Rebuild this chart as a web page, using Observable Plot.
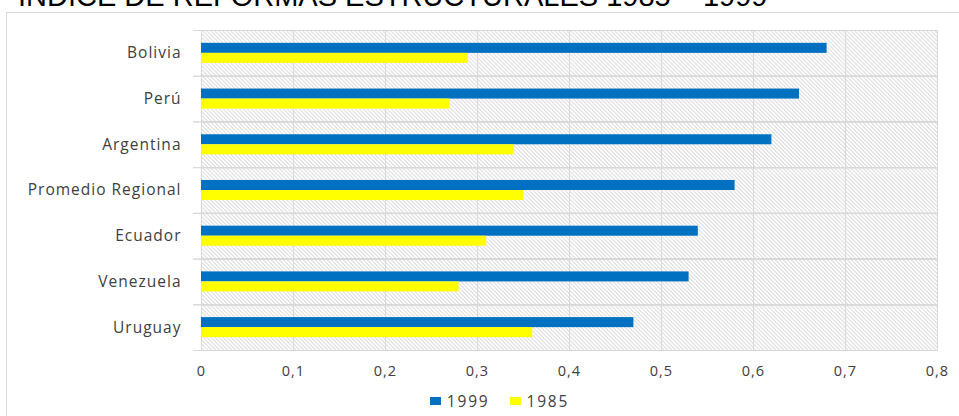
<!DOCTYPE html>
<html>
<head>
<meta charset="utf-8">
<script src="https://cdn.jsdelivr.net/npm/d3@7"></script>
<script src="https://cdn.jsdelivr.net/npm/@observablehq/plot@0.6"></script>
<style>
  html, body { margin: 0; padding: 0; background: #fff; }
  #wrap { position: relative; width: 959px; height: 416px; overflow: hidden; }
  #border { position: absolute; left: 6px; top: 12px; width: 1200px; height: 600px; border: 1px solid #d9d9d9; }
  #title { position: absolute; left: 18px; top: -18px; font-family: "Liberation Sans", Arial, sans-serif; font-size: 29px; line-height: 29px; color: #000; white-space: nowrap; }
  #chart { position: absolute; left: 0; top: 0; }
  #chart svg text { letter-spacing: 1px; }
  #legend { position: absolute; left: 0; top: 390px; width: 959px; height: 22px; display: flex; justify-content: center; align-items: center; padding-left: 40px; box-sizing: border-box;
            font-family: "Open Sans", sans-serif; font-size: 15.5px; letter-spacing: 1.8px; color: #404040; }
  #legend .item { display: flex; align-items: center; margin: 0 10px; }
  #legend .sw { width: 11px; height: 8px; margin-right: 6px; }
</style>
</head>
<body>
<div id="wrap">
  <div id="border"></div>
  <div id="title">INDICE DE REFORMAS ESTRUCTURALES 1985 – 1999</div>
  <div id="chart"></div>
  <div id="legend"></div>
</div>
<script>
// Structural reform index by country, 1999 vs 1985
const countries = ["Bolivia", "Perú", "Argentina", "Promedio Regional", "Ecuador", "Venezuela", "Uruguay"];
const series = ["1999", "1985"];
const values1999 = [0.68, 0.65, 0.62, 0.58, 0.54, 0.53, 0.47];
const values1985 = [0.29, 0.27, 0.34, 0.35, 0.31, 0.28, 0.36];
const xTicks = [0, 0.1, 0.2, 0.3, 0.4, 0.5, 0.6, 0.7, 0.8];
const seriesColors = ["#0070C0", "#FFFF00"];

const rows = countries.flatMap((c, i) => [
  {country: c, year: series[0], value: values1999[i]},
  {country: c, year: series[1], value: values1985[i]}
]);

const fmt = d => String(d).replace(".", ",");

const chart = Plot.plot({
  width: 959,
  height: 386,
  marginLeft: 201,
  marginRight: 22,
  marginTop: 30,
  marginBottom: 36,
  style: {fontFamily: "Open Sans, sans-serif", fontSize: "14.5px", color: "#404040", background: "transparent"},
  x: {domain: [0, 0.8], label: null},
  fy: {domain: countries, padding: 0, round: false, label: null},
  y: {domain: series, paddingInner: 0, paddingOuter: 1.28, round: false, axis: null},
  color: {domain: series, range: seriesColors},
  marks: [
    Plot.frame({fill: "url(#hatch)", stroke: null}),
    Plot.gridX(xTicks, {stroke: "#d9d9d9", strokeOpacity: 1}),
    Plot.frame({stroke: "#d9d9d9"}),
    Plot.frame({anchor: "top", stroke: "#d9d9d9", insetLeft: -8}),
    Plot.frame({anchor: "bottom", stroke: "#d9d9d9", insetLeft: -8}),
    Plot.barX(rows, {x: "value", y: "year", fy: "country", fill: "year"}),
    Plot.axisX({anchor: "bottom", ticks: xTicks, tickFormat: fmt, tickSize: 0, tickPadding: 15, fontSize: 14.5, fill: "#404040", label: null}),
    Plot.axisFy({anchor: "left", tickSize: 0, tickPadding: 20, fontSize: 15.5, fill: "#404040", label: null})
  ]
});

// diagonal hatch used as the plot background
chart.insertAdjacentHTML("afterbegin",
  `<defs><pattern id="hatch" patternUnits="userSpaceOnUse" width="4" height="4">
     <rect width="4" height="4" fill="#ffffff"/>
     <path d="M-1,-1 L5,5 M-1,3 L1,5 M3,-1 L5,1" stroke="#cacaca" stroke-width="1"/>
   </pattern></defs>`);

document.getElementById("chart").appendChild(chart);

const legend = document.getElementById("legend");
series.forEach((s, i) => {
  const item = document.createElement("div");
  item.className = "item";
  item.innerHTML = `<span class="sw" style="background:${seriesColors[i]}"></span><span>${s}</span>`;
  legend.appendChild(item);
});
</script>
</body>
</html>
